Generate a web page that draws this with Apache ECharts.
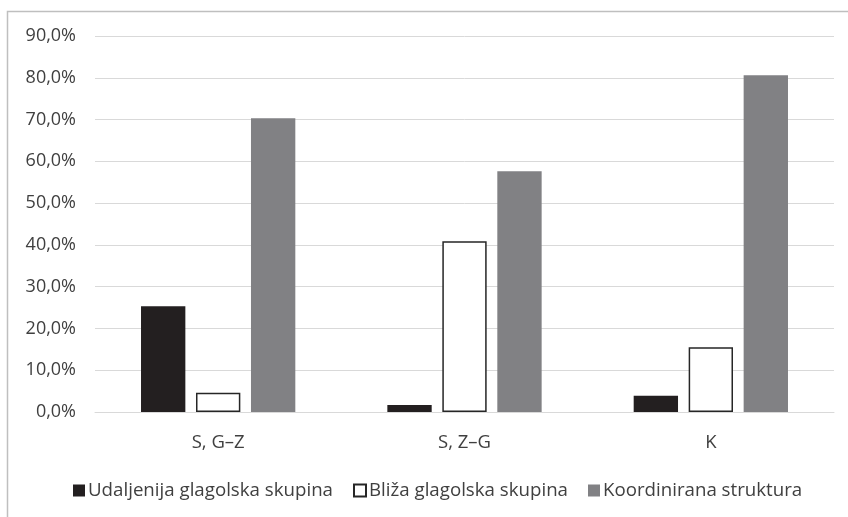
<!DOCTYPE html>
<html><head><meta charset="utf-8">
<script src="https://cdn.jsdelivr.net/npm/echarts@6/dist/echarts.min.js"></script>
<style>html,body{margin:0;padding:0;background:#fff}#c{width:848px;height:517px}</style>
</head><body><div id="c"></div>
<script>
const categories = ['S, G–Z', 'S, Z–G', 'K'];
const seriesNames = ['Udaljenija glagolska skupina', 'Bliža glagolska skupina', 'Koordinirana struktura'];
const udaljenija = [25.3, 1.7, 3.9];
const bliza = [4.6, 40.9, 15.5];
const koordinirana = [70.3, 57.6, 80.6];
const yTicks = [0, 10, 20, 30, 40, 50, 60, 70, 80, 90];

const FONT = '"Open Sans", sans-serif';
const chart = echarts.init(document.getElementById('c'));
chart.setOption({
  animation: false,
  backgroundColor: '#fff',
  graphic: [{type:'rect', shape:{x:7.5,y:11.5,width:900,height:600}, style:{fill:'none', stroke:'#bfbfbf', lineWidth:1.5}, silent:true}],
  grid: {left: 95, right: 14, top: 36, bottom: 105},
  legend: {
    top: 476, left: 68, itemWidth: 12, itemHeight: 12, itemGap: 20,
    icon: 'rect',
    textStyle: {fontFamily: FONT, fontSize: 18.7, color: '#404040', padding:[0,0,0,-2]},
    data: seriesNames
  },
  xAxis: {
    type: 'category', data: categories,
    axisLine: {lineStyle: {color: '#d9d9d9', width: 1}},
    axisTick: {show: false},
    axisLabel: {fontFamily: FONT, fontSize: 18.5, color: '#404040', margin: 21}
  },
  yAxis: {
    type: 'value', min: yTicks[0], max: yTicks[yTicks.length-1], interval: 10,
    axisLine: {show: false}, axisTick: {show: false},
    splitLine: {lineStyle: {color: '#d9d9d9', width: 1}},
    axisLabel: {fontFamily: FONT, fontSize: 18, color: '#404040', margin: 19,
      formatter: v => v.toFixed(1).replace('.', ',') + '%'}
  },
  series: [
    {name: seriesNames[0], type: 'bar', data: udaljenija, barWidth: '18%', barGap: '24%',
     itemStyle: {color: '#231f20'}},
    {name: seriesNames[1], type: 'bar', data: bliza, barWidth: '18%', barGap: '24%',
     itemStyle: {color: '#ffffff', borderColor: '#262626', borderWidth: 1.5}},
    {name: seriesNames[2], type: 'bar', data: koordinirana, barWidth: '18%', barGap: '24%',
     itemStyle: {color: '#818184'}}
  ]
});
</script></body></html>
